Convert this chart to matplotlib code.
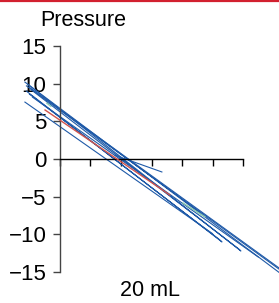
import matplotlib
matplotlib.use("Agg")
import matplotlib.pyplot as plt
from matplotlib.lines import Line2D

plt.rcParams['font.family'] = ['Liberation Sans', 'DejaVu Sans']

# pressure-volume traces (volume in ticks, pressure)
blue_x = [
    [-1.15, 7.30, 7.35, -1.10],
    [-1.05, 5.93, 5.85, -0.95],
    [-1.10, 5.31, 5.20, -1.00],
    [-1.15, 5.00],
    [-1.00, 7.30],
    [-0.90, 6.50],
    [1.80, 3.34],
]
blue_y = [
    [10.2, -15.4, -15.1, 9.7],
    [9.9, -12.2, -11.9, 9.2],
    [9.0, -11.0, -10.6, 8.6],
    [7.55, -9.9],
    [9.5, -14.8],
    [8.2, -13.0],
    [0.5, -1.72],
]
red_x = [-0.49, 3.6]
red_y = [6.5, -4.77]
green_x = [[-0.43, -0.30], [4.03, 4.75]]
green_y = [[7.4, 7.0], [-5.83, -7.68]]

y_ticks = [-15, -10, -5, 0, 5, 10, 15]
x_ticks = [0, 1, 2, 3, 4, 5, 6]

fig = plt.figure(figsize=(2.79, 3.03), dpi=100)
ax = fig.add_axes([0, 0, 1, 1])
ax.patch.set_alpha(0)

for xs, ys in zip(blue_x, blue_y):
    ax.plot(xs, ys, color='#1f5aa8', lw=0.8)
ax.plot(red_x, red_y, color='#d0534c', lw=1.0, zorder=3)
for xs, ys in zip(green_x, green_y):
    ax.plot(xs, ys, color='#8ccab0', lw=1.0, zorder=3)

ax.set_xlim(-1.967, 7.18)
ax.set_ylim(-19.1, 21.09)

ax.spines['top'].set_visible(False)
ax.spines['right'].set_visible(False)
ax.spines['left'].set_position(('data', 0))
ax.spines['bottom'].set_position(('data', 0))
ax.spines['left'].set_bounds(-15, 15)
ax.spines['bottom'].set_bounds(0, 6)
ax.spines['left'].set_color('#444444')
ax.spines['left'].set_linewidth(1.0)
ax.spines['bottom'].set_linewidth(1.0)

ax.set_yticks(y_ticks)
ax.set_yticklabels([str(v).replace('-', '\u2212') for v in y_ticks])
ax.set_xticks(x_ticks)
ax.set_xticklabels([])
ax.tick_params(axis='y', direction='out', length=4.7, width=1.0, color='#444444',
               labelsize=16, pad=5)
ax.tick_params(axis='x', direction='out', length=4.7, width=1.0)

fig.text(83 / 279, 1 - 20 / 303, 'Pressure', ha='center', va='center', fontsize=15.5)
fig.text(150 / 279, 1 - 291 / 303, '20 mL', ha='center', va='center', fontsize=15.5)

fig.add_artist(Line2D([0, 1], [0.997, 0.997], transform=fig.transFigure,
                      color='#d2202f', lw=1.6))

fig.savefig('out.png', dpi=100)
